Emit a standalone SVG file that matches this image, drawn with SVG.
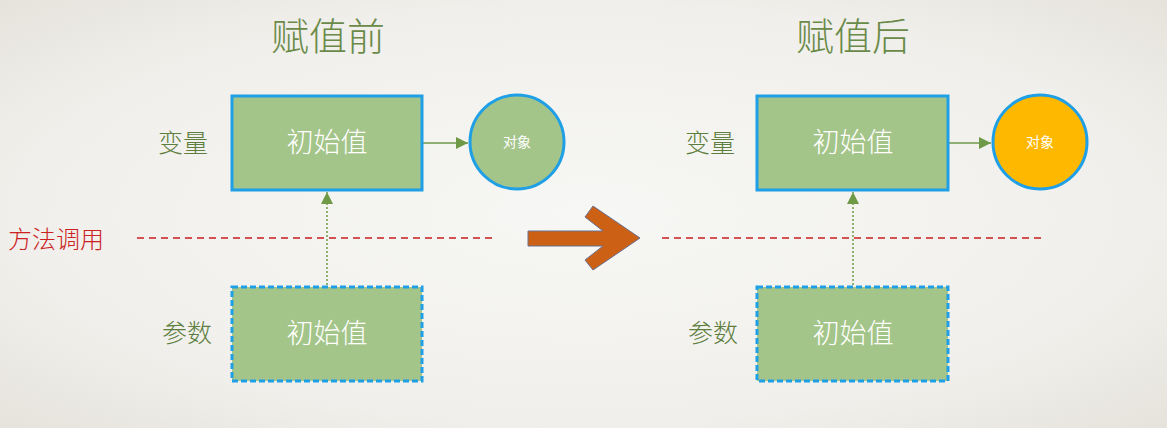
<svg xmlns="http://www.w3.org/2000/svg" width="1167" height="428" viewBox="0 0 1167 428">
<defs>
<radialGradient id="bg" cx="50%" cy="50%" r="70%">
<stop offset="0" stop-color="#F7F7F5"/>
<stop offset="0.7" stop-color="#F0EFEB"/>
<stop offset="1" stop-color="#E6E3DC"/>
</radialGradient>
<marker id="ah" viewBox="0 0 10 10" refX="10" refY="5" markerWidth="12" markerHeight="12" markerUnits="userSpaceOnUse" orient="auto">
<path d="M0,0 L10,5 L0,10 Z" fill="#6E9A48"/>
</marker>
<style>
.t{font-family:"Noto Sans CJK SC","Noto Sans",sans-serif;font-weight:300;}
.title{font-size:38px;fill:#6A8A48;text-anchor:middle;}
.lbl{font-size:25px;fill:#5E7E40;text-anchor:middle;}
.box{fill:#A4C58A;stroke:#1E9FE6;stroke-width:3;}
.dbox{fill:#A4C58A;stroke:#1E9FE6;stroke-width:3;stroke-dasharray:6 3;}
.bt{font-size:27px;fill:#FFFFFF;text-anchor:middle;}
.ct{font-size:14px;fill:#FFFFFF;text-anchor:middle;font-weight:400;}
.red{stroke:#C81E1E;stroke-width:1.3;stroke-dasharray:7 5;fill:none;}
.solid{stroke:#6E9A48;stroke-width:1.5;fill:none;}
.dot{stroke:#6E9A48;stroke-width:1.5;stroke-dasharray:2 2;fill:none;}
</style>
</defs>
<rect width="1167" height="428" fill="url(#bg)"/>
<g id="titles">
<text class="t title" x="328" y="50">赋值前</text>
<text class="t title" x="853" y="50">赋值后</text>
</g>
<g id="labels">
<text class="t lbl" x="183" y="152">变量</text>
<text class="t lbl" x="187" y="342">参数</text>
<text class="t lbl" x="710" y="152">变量</text>
<text class="t lbl" x="713" y="342">参数</text>
<text class="t" x="8" y="248" font-size="24" fill="#CC2222">方法调用</text>
</g>
<g id="connectors">
<line class="red" x1="137" y1="238" x2="495" y2="238"/>
<line class="red" x1="662" y1="238" x2="1042" y2="238"/>
<line class="solid" x1="423" y1="143" x2="468" y2="143" marker-end="url(#ah)"/>
<line class="dot" x1="327" y1="285" x2="327" y2="192" marker-end="url(#ah)"/>
<line class="solid" x1="949" y1="143" x2="991" y2="143" marker-end="url(#ah)"/>
<line class="dot" x1="853" y1="285" x2="853" y2="192" marker-end="url(#ah)"/>
</g>
<g id="before-var">
<rect class="box" x="232" y="96" width="190" height="94"/>
<text class="t bt" x="327" y="152">初始值</text>
</g>
<g id="before-obj">
<circle cx="517" cy="142" r="47" fill="#A4C58A" stroke="#1E9FE6" stroke-width="3"/>
<text class="t ct" x="517" y="147">对象</text>
</g>
<g id="before-param">
<rect class="dbox" x="232" y="287" width="190" height="94"/>
<text class="t bt" x="327" y="343">初始值</text>
</g>
<g id="big-arrow">
<polygon points="528,231 603,231 585,217 593,206 640,238 593,270 585,260 603,246 528,246" fill="#CC6015" stroke="#6A7090" stroke-width="1"/>
</g>
<g id="after-var">
<rect class="box" x="757" y="96" width="191" height="94"/>
<text class="t bt" x="853" y="152">初始值</text>
</g>
<g id="after-obj">
<circle cx="1040" cy="142" r="47" fill="#FFB800" stroke="#1E9FE6" stroke-width="3"/>
<text class="t ct" x="1040" y="147">对象</text>
</g>
<g id="after-param">
<rect class="dbox" x="757" y="287" width="191" height="94"/>
<text class="t bt" x="853" y="343">初始值</text>
</g>
</svg>
